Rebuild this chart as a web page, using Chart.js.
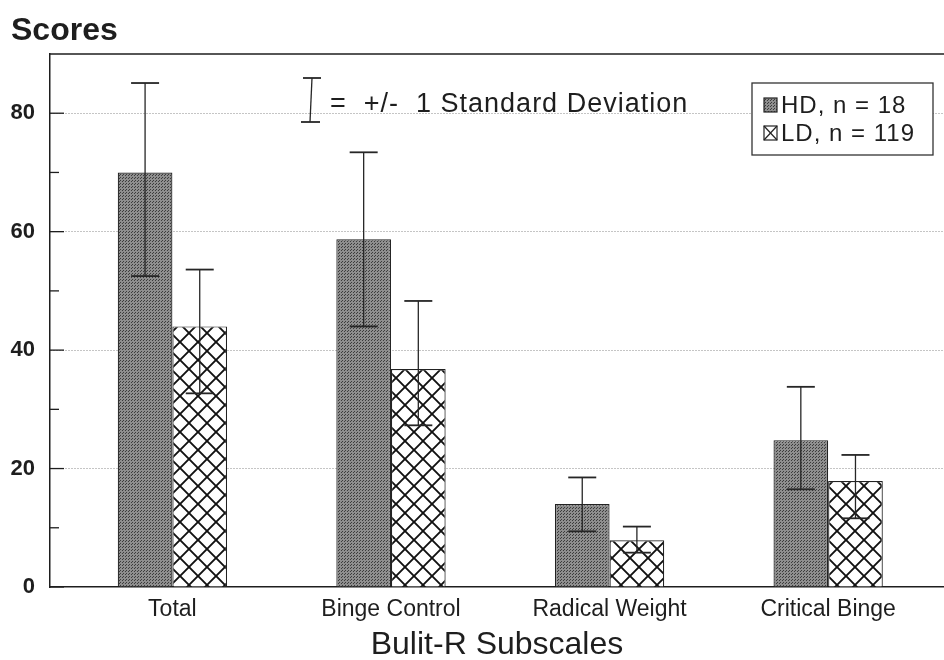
<!DOCTYPE html>
<html>
<head>
<meta charset="utf-8">
<script src="https://cdn.jsdelivr.net/npm/chart.js@4/dist/chart.umd.min.js"></script>
<style>
  html, body { margin: 0; padding: 0; background: #fff; overflow: hidden; }
  #wrap { width: 944px; height: 660px; position: relative; }
</style>
</head>
<body>
<div id="wrap"><canvas id="c" width="944" height="660"></canvas></div>
<script>
// Subscale categories and group sizes
const categories = ['Total', 'Binge Control', 'Radical Weight', 'Critical Binge'];
const hdLabel = 'HD, n = 18';
const ldLabel = 'LD, n = 119';

// Mean scores and the ends of the +/- 1 SD bars
const hdMeans = [70, 58.7, 14, 24.8];
const hdUpper = [85.1, 73.4, 18.5, 33.8];
const hdLower = [52.5, 44.0, 9.4, 16.5];
const ldMeans = [44, 36.8, 7.9, 17.9];
const ldUpper = [53.6, 48.3, 10.2, 22.3];
const ldLower = [32.7, 27.3, 5.8, 11.6];

// Axis ticks
const yTicks = [0, 20, 40, 60, 80];
const yMinorTicks = [10, 30, 50, 70];

const FONT = '"Liberation Sans", Arial, Helvetica, sans-serif';
const INK = '#1e1e1e';

// Stippled grey fill for HD bars
function makeStipple() {
  const c = document.createElement('canvas');
  c.width = 3; c.height = 3;
  const g = c.getContext('2d');
  g.fillStyle = '#8e8e8e';
  g.fillRect(0, 0, 3, 3);
  g.fillStyle = '#3c3c3c';
  g.fillRect(0, 0, 1, 1);
  g.fillRect(2, 1, 1, 1);
  return g.createPattern(c, 'repeat');
}

// Diagonal cross-hatch fill for LD bars
function makeHatch() {
  const s = 18;
  const c = document.createElement('canvas');
  c.width = s; c.height = s;
  const g = c.getContext('2d');
  g.fillStyle = '#ffffff';
  g.fillRect(0, 0, s, s);
  g.strokeStyle = '#111';
  g.lineWidth = 1.9;
  for (const d of [-s, 0, s]) {
    g.beginPath();
    g.moveTo(d, 0); g.lineTo(d + s, s);
    g.moveTo(d + s, 0); g.lineTo(d, s);
    g.stroke();
  }
  return g.createPattern(c, 'repeat');
}

const stipple = makeStipple();
const hatch = makeHatch();

function line(ctx, x1, y1, x2, y2) {
  ctx.beginPath(); ctx.moveTo(x1, y1); ctx.lineTo(x2, y2); ctx.stroke();
}

// Frame, inward tick marks, SD bars, key and legend box
const decorations = {
  id: 'decorations',
  beforeDatasetsDraw(chart) {
    const { ctx, chartArea: a } = chart;
    const y = chart.scales.y;
    ctx.save();
    ctx.strokeStyle = INK;
    ctx.lineWidth = 1.5;
    line(ctx, a.left, a.top, a.right, a.top);
    ctx.lineWidth = 1.3;
    for (const v of yTicks) { const p = y.getPixelForValue(v); line(ctx, a.left, p, a.left + 14, p); }
    for (const v of yMinorTicks) { const p = y.getPixelForValue(v); line(ctx, a.left, p, a.left + 9, p); }
    ctx.restore();
  },
  afterDatasetsDraw(chart) {
    const { ctx } = chart;
    const y = chart.scales.y;
    ctx.save();
    ctx.strokeStyle = '#262626';
    chart.data.datasets.forEach((ds, d) => {
      const meta = chart.getDatasetMeta(d);
      meta.data.forEach((bar, i) => {
        const top = y.getPixelForValue(ds.sdUpper[i]);
        const bot = y.getPixelForValue(ds.sdLower[i]);
        const x = bar.x;
        ctx.lineWidth = 1.3;
        line(ctx, x, top, x, bot);
        ctx.lineWidth = 1.8;
        line(ctx, x - 14, top, x + 14, top);
        line(ctx, x - 14, bot, x + 14, bot);
      });
    });
    ctx.restore();
  },
  afterDraw(chart) {
    const { ctx } = chart;
    ctx.save();
    // "Scores" heading over the value axis
    ctx.fillStyle = INK;
    ctx.font = 'bold 32px ' + FONT;
    ctx.textBaseline = 'alphabetic';
    ctx.fillText('Scores', 11, 40);

    // SD key
    ctx.strokeStyle = '#262626';
    ctx.lineWidth = 1.3;
    const kx = 311, kt = 78, kb = 122;
    line(ctx, kx + 1, kt, kx - 1, kb);
    ctx.lineWidth = 1.8;
    line(ctx, kx - 8, kt, kx + 10, kt);
    line(ctx, kx - 10, kb, kx + 9, kb);
    ctx.font = '27px ' + FONT;
    ctx.letterSpacing = '1px';
    ctx.fillText('=  +/-  1 Standard Deviation', 330, 112);

    // Legend box
    const lx = 752, ly = 83, lw = 181, lh = 72;
    ctx.fillStyle = '#fff';
    ctx.fillRect(lx, ly, lw, lh);
    ctx.strokeStyle = '#333';
    ctx.lineWidth = 1.3;
    ctx.strokeRect(lx, ly, lw, lh);
    chart.data.datasets.forEach((ds, i) => {
      const sy = ly + 15 + i * 28;
      ctx.fillStyle = ds.legendFill;
      ctx.fillRect(lx + 12, sy, 13, 14);
      ctx.strokeStyle = '#222';
      ctx.lineWidth = 1.2;
      ctx.strokeRect(lx + 12, sy, 13, 14);
      if (ds.legendCross) {
        line(ctx, lx + 12, sy, lx + 25, sy + 14);
        line(ctx, lx + 25, sy, lx + 12, sy + 14);
      }
      ctx.fillStyle = INK;
      ctx.font = '24px ' + FONT;
      ctx.letterSpacing = '1px';
      ctx.fillText(ds.label, lx + 29, sy + 15);
    });
    ctx.restore();
  }
};

new Chart(document.getElementById('c'), {
  type: 'bar',
  data: {
    datasets: [
      {
        label: hdLabel,
        data: hdMeans.map((v, i) => ({ x: i + 1, y: v })),
        sdUpper: hdUpper, sdLower: hdLower,
        backgroundColor: stipple, legendFill: stipple, legendCross: false,
        borderColor: '#222', borderWidth: 1.2,
        categoryPercentage: 0.5, barPercentage: 1.0
      },
      {
        label: ldLabel,
        data: ldMeans.map((v, i) => ({ x: i + 1, y: v })),
        sdUpper: ldUpper, sdLower: ldLower,
        backgroundColor: hatch, legendFill: '#fff', legendCross: true,
        borderColor: '#222', borderWidth: 1.2,
        categoryPercentage: 0.5, barPercentage: 1.0
      }
    ]
  },
  options: {
    responsive: false,
    devicePixelRatio: 1,
    animation: false,
    layout: { padding: { top: 54, left: 0, right: 0, bottom: 0 } },
    plugins: { legend: { display: false }, title: { display: false }, tooltip: { enabled: false } },
    scales: {
      x: {
        type: 'linear',
        offset: false,
        min: 0.44, max: 4.53,
        afterBuildTicks(scale) { scale.ticks = categories.map((_, i) => ({ value: i + 1 })); },
        afterFit(scale) { scale.height = 73; },
        grid: { display: false, drawTicks: false, offset: false },
        border: { display: true, color: INK, width: 1.5 },
        ticks: {
          autoSkip: false, maxRotation: 0, padding: 9,
          color: INK, font: { family: FONT, size: 23 },
          callback: (v) => categories[Math.round(v) - 1]
        },
        title: {
          display: true, text: 'Bulit-R Subscales', color: INK,
          font: { family: FONT, size: 32 }, padding: { top: 0, bottom: -4 }
        }
      },
      y: {
        min: 0, max: 90,
        afterBuildTicks(scale) { scale.ticks = yTicks.map(v => ({ value: v })); },
        afterFit(scale) { scale.width = 50; },
        grid: {
          drawTicks: false, lineWidth: 1,
          color: (c) => c.tick && c.tick.value === 0 ? 'rgba(0,0,0,0)' : '#8a8a8a'
        },
        border: { display: true, color: INK, width: 1.5, dash: [1, 2] },
        ticks: { padding: 15, color: INK, font: { family: FONT, size: 22, weight: 'bold' } }
      }
    }
  },
  plugins: [decorations]
});
</script>
</body>
</html>
